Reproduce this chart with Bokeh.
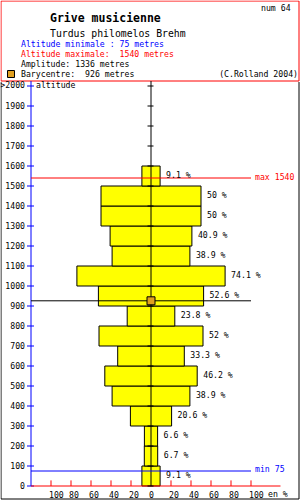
from bokeh.plotting import figure
from bokeh.core.properties import value
from bokeh.embed import file_html
from bokeh.resources import INLINE

# ---------------- data ----------------
band_bottoms = [0, 100, 200, 300, 400, 500, 600, 700, 800, 900,
                1000, 1100, 1200, 1300, 1400, 1500]
percents = [9.1, 6.7, 6.6, 20.6, 38.9, 46.2, 33.3, 52, 23.8, 52.6,
            74.1, 38.9, 40.9, 50, 50, 9.1]
band_height = 100
alt_min = 75
alt_max = 1540
barycentre = 926
amplitude = 1336
y_ticks = list(range(0, 2001, 100))
y_tick_labels = [str(t) for t in y_ticks[:-1]] + [">2000"]
x_ticks = [-100, -80, -60, -40, -20, 0, 20, 40, 60, 80, 100]
x_tick_labels = ["100", "80", "60", "40", "20", "0", "20", "40", "60", "80", "100"]

title = "Grive musicienne"
subtitle = "Turdus philomelos Brehm"
num_label = "num 64"
credit = "(C.Rolland 2004)"

FONT = value("DejaVu Sans Mono")
FS = "8.2px"
ORANGE = "#e0a020"
SH = -4  # vertical text correction in pixels
NB = "\u00a0"

# pixel helpers (layout only)
def dx(col):
    return col - 150.0

def dy(row):
    return (485.0 - row) * 5.0

p = figure(width=300, height=500, x_range=(-150.5, 149.5), y_range=(-72.5, 2427.5),
           min_border=0, toolbar_location=None, output_backend="svg",
           x_axis_location=None, y_axis_location=None)
p.grid.visible = False
p.outline_line_color = None
p.background_fill_color = "white"
p.border_fill_color = "white"

# ---------------- bars ----------------
lefts = [-v for v in percents]
tops = [b + band_height for b in band_bottoms]
p.quad(left=lefts, right=percents, bottom=band_bottoms, top=tops,
       fill_color="#ffff00", line_color="black", line_width=1)

# ---------------- frames ----------------
p.segment(x0=[dx(0), dx(0), dx(298), dx(0)], y0=[dy(0), dy(0), dy(0), dy(80)],
          x1=[dx(298), dx(0), dx(298), dx(298)], y1=[dy(0), dy(80), dy(80), dy(80)],
          line_color="red", line_width=1)
p.segment(x0=[dx(0), dx(298), dx(0)], y0=[dy(81), dy(81), dy(498)],
          x1=[dx(0), dx(298), dx(298)], y1=[dy(498), dy(498), dy(498)],
          line_color="black", line_width=1)

# ---------------- left blue axis ----------------
p.segment(x0=[-120], y0=[0], x1=[-120], y1=[dy(80)], line_color="blue", line_width=1)
p.segment(x0=[-124] * len(y_ticks), y0=y_ticks, x1=[-117] * len(y_ticks), y1=y_ticks,
          line_color="blue", line_width=1)
p.text(x=[dx(24)] * len(y_ticks), y=y_ticks, text=y_tick_labels, text_font=FONT,
       text_font_size=FS, text_align="right", text_baseline="alphabetic",
       y_offset=3 + SH, text_color="black")
p.text(x=[dx(35)], y=[2000], text=["altitude"], text_font=FONT, text_font_size=FS,
       text_align="left", text_baseline="alphabetic", y_offset=3 + SH, text_color="black")

# ---------------- bottom red axis ----------------
p.segment(x0=[-120], y0=[0], x1=[129.5], y1=[0], line_color="red", line_width=1)
tick_nz = [t for t in x_ticks if t != 0]
p.segment(x0=tick_nz, y0=[0] * len(tick_nz), x1=tick_nz, y1=[28] * len(tick_nz),
          line_color="red", line_width=1)
p.text(x=[t - 2 for t in x_ticks], y=[dy(497)] * len(x_ticks), text=x_tick_labels,
       text_font=FONT, text_font_size=FS, text_align="left",
       text_baseline="alphabetic", y_offset=SH, text_color="black")
p.text(x=[117], y=[dy(497)], text=["en %"], text_font=FONT, text_font_size=FS,
       text_align="left", text_baseline="alphabetic", y_offset=SH, text_color="black")

# ---------------- centre axis ----------------
p.segment(x0=[0], y0=[0], x1=[0], y1=[dy(80)], line_color="black", line_width=1)
p.segment(x0=[-3.5] * len(y_ticks), y0=y_ticks, x1=[2.5] * len(y_ticks), y1=y_ticks,
          line_color="black", line_width=1)

# ---------------- min / max / barycentre lines ----------------
p.segment(x0=[-120], y0=[alt_max], x1=[100], y1=[alt_max], line_color="red", line_width=1)
p.segment(x0=[-120], y0=[alt_min], x1=[100], y1=[alt_min], line_color="blue", line_width=1)
p.segment(x0=[-120], y0=[barycentre], x1=[100], y1=[barycentre], line_color="black", line_width=1)
p.text(x=[104], y=[alt_max], text=["max %d" % alt_max], text_font=FONT, text_font_size=FS,
       text_align="left", text_baseline="alphabetic", y_offset=3 + SH, text_color="red")
p.text(x=[104], y=[alt_min], text=["min %d" % alt_min], text_font=FONT, text_font_size=FS,
       text_align="left", text_baseline="alphabetic", y_offset=2 + SH, text_color="blue")
p.scatter(x=[0], y=[barycentre], marker="square", size=8, fill_color=ORANGE,
          line_color="black", line_width=1)

# ---------------- bar labels ----------------
pct_labels = ["%g %%" % v for v in percents]
p.text(x=[v + 6 for v in percents], y=[b + band_height / 2 for b in band_bottoms],
       text=pct_labels, text_font=FONT, text_font_size=FS, text_align="left",
       text_baseline="alphabetic", y_offset=3 + SH, text_color="black")

# ---------------- header ----------------
p.text(x=[dx(260)], y=[dy(11)], text=[num_label], text_font=FONT, text_font_size=FS,
       text_align="left", text_baseline="alphabetic", y_offset=SH, text_color="black")
p.text(x=[dx(49)], y=[dy(21)], text=[title], text_font=FONT, text_font_size="11.5px",
       text_font_style="bold", text_align="left", text_baseline="alphabetic",
       y_offset=SH, text_color="black")
p.text(x=[dx(49)], y=[dy(36)], text=[subtitle], text_font=FONT, text_font_size="9.8px",
       text_align="left", text_baseline="alphabetic", y_offset=SH, text_color="black")
p.text(x=[dx(20)], y=[dy(47)], text=["Altitude minimale : %d metres" % alt_min], text_font=FONT,
       text_font_size=FS, text_align="left", text_baseline="alphabetic", y_offset=SH,
       text_color="blue")
p.text(x=[dx(20)], y=[dy(57)], text=["Altitude maximale:" + NB + NB + "%d metres" % alt_max],
       text_font=FONT, text_font_size=FS, text_align="left", text_baseline="alphabetic",
       y_offset=SH, text_color="red")
p.text(x=[dx(20)], y=[dy(67)], text=["Amplitude: %d metres" % amplitude], text_font=FONT,
       text_font_size=FS, text_align="left", text_baseline="alphabetic", y_offset=SH,
       text_color="black")
p.text(x=[dx(20)], y=[dy(77)], text=["Barycentre:" + NB + NB + "%d metres" % barycentre],
       text_font=FONT, text_font_size=FS, text_align="left", text_baseline="alphabetic",
       y_offset=SH, text_color="black")
p.text(x=[dx(297)], y=[dy(77)], text=[credit], text_font=FONT,
       text_font_size=FS, text_align="right", text_baseline="alphabetic", y_offset=SH,
       text_color="black")
p.scatter(x=[dx(10)], y=[dy(73)], marker="square", size=7, fill_color=ORANGE,
          line_color="black", line_width=1)

open("out.html", "w").write(file_html(p, INLINE))
